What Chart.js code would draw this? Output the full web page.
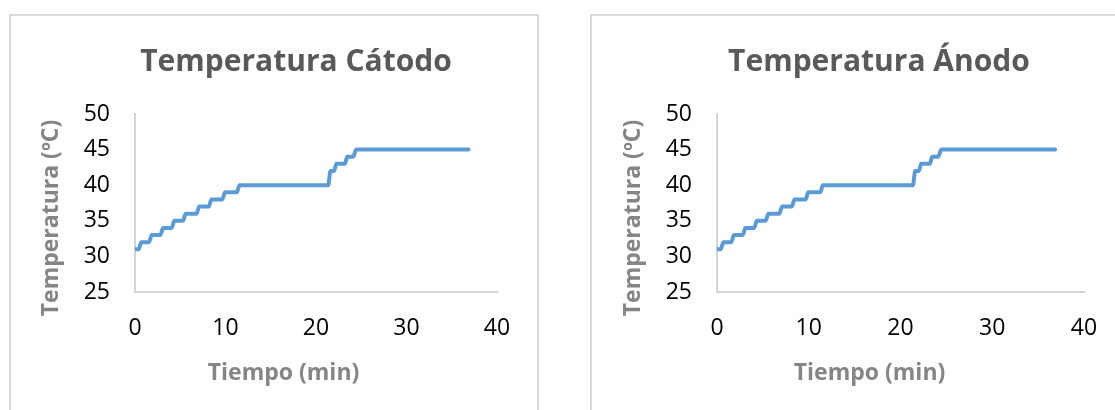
<!DOCTYPE html>
<html lang="es">
<head>
<meta charset="utf-8">
<title>Temperatura Cátodo y Ánodo</title>
<script src="https://cdn.jsdelivr.net/npm/chart.js@4.4.1/dist/chart.umd.min.js"></script>
<style>
  html, body { margin: 0; padding: 0; background: #fff; overflow: hidden; width: 1115px; height: 410px; }
  .marco { position: absolute; top: 14px; height: 420px; border: 2px solid #d9d9d9; box-sizing: border-box; background: #fff; }
  canvas { position: absolute; top: 0; }
</style>
</head>
<body>
<div class="marco" style="left:9px;width:530px"></div>
<div class="marco" style="left:590px;width:600px"></div>
<canvas id="catodo" width="592" height="410" style="left:0"></canvas>
<canvas id="anodo" width="558" height="410" style="left:600px"></canvas>
<script>
// Registro de temperatura frente al tiempo (min, ºC)
const tiempo = [0, 0.4, 0.7, 1.55, 1.85, 2.8, 3.1, 4.05, 4.35, 5.3, 5.6, 6.8, 7.1, 8.15, 8.45, 9.65, 9.95, 11.25, 11.55, 21.35, 21.6, 22.0, 22.25, 23.2, 23.45, 24.1, 24.45, 36.85];
const tempCatodo = [31, 31, 32, 32, 33, 33, 34, 34, 35, 35, 36, 36, 37, 37, 38, 38, 39, 39, 40, 40, 42, 42, 43, 43, 44, 44, 45, 45];
const tempAnodo  = [31, 31, 32, 32, 33, 33, 34, 34, 35, 35, 36, 36, 37, 37, 38, 38, 39, 39, 40, 40, 42, 42, 43, 43, 44, 44, 45, 45];

// Marcas de los ejes
const ticksTiempo = [0, 10, 20, 30, 40];
const ticksTemperatura = [25, 30, 35, 40, 45, 50];

const FUENTE = '"Open Sans", "Noto Sans", sans-serif';

// Rótulos de los ejes, situados respecto al área de trazado
const rotulosEjes = {
  id: 'rotulosEjes',
  afterDraw(chart, args, opts) {
    const { ctx, chartArea } = chart;
    ctx.save();
    ctx.font = `bold ${opts.size}px ${FUENTE}`;
    ctx.fillStyle = opts.color;
    ctx.textAlign = 'center';
    ctx.textBaseline = 'middle';
    ctx.fillText(opts.x.text, chartArea.left + opts.x.dx, chartArea.bottom + opts.x.dy);
    ctx.translate(chartArea.left + opts.y.dx, chartArea.top + opts.y.dy);
    ctx.rotate(-Math.PI / 2);
    ctx.fillText(opts.y.text, 0, 0);
    ctx.restore();
  }
};

function crearGrafico(id, titulo, valores, geo) {
  const puntos = tiempo.map((t, i) => ({ x: t, y: valores[i] }));
  return new Chart(document.getElementById(id), {
    type: 'line',
    data: {
      datasets: [{
        label: titulo,
        data: puntos,
        borderColor: '#5b9bd5',
        borderWidth: 4,
        borderCapStyle: 'round',
        borderJoinStyle: 'round',
        pointRadius: 0,
        cubicInterpolationMode: 'monotone',
        fill: false
      }]
    },
    options: {
      responsive: false,
      animation: false,
      devicePixelRatio: 1,
      layout: { padding: 0 },
      plugins: {
        legend: { display: false },
        tooltip: { enabled: false },
        title: {
          display: true,
          text: titulo,
          color: '#595959',
          font: { family: FUENTE, weight: 'bold', size: 30, lineHeight: 1.2 },
          padding: { top: 44.5, bottom: 33.5 }
        },
        rotulosEjes: {
          size: 23,
          color: '#858585',
          x: { text: 'Tiempo (min)', dx: geo.xCapDx, dy: 81 },
          y: { text: 'Temperatura (ºC)', dx: -84, dy: 104 }
        }
      },
      scales: {
        x: {
          type: 'linear',
          min: ticksTiempo[0],
          max: ticksTiempo[ticksTiempo.length - 1],
          afterBuildTicks: s => { s.ticks = ticksTiempo.map(v => ({ value: v })); },
          ticks: {
            padding: 23, color: '#000', maxRotation: 0, minRotation: 0, autoSkip: false,
            font: { family: FUENTE, size: 23 }
          },
          grid: { display: false, drawTicks: false },
          border: { display: true, color: '#d4d4d4', width: 2 },
          afterFit: s => { s.height = 118; s.paddingLeft = 0; s.paddingRight = geo.padRight; }
        },
        y: {
          type: 'linear',
          min: ticksTemperatura[0],
          max: ticksTemperatura[ticksTemperatura.length - 1],
          afterBuildTicks: s => { s.ticks = ticksTemperatura.map(v => ({ value: v })); },
          ticks: {
            padding: 25, color: '#000',
            font: { family: FUENTE, size: 23 }
          },
          grid: { display: false, drawTicks: false },
          border: { display: true, color: '#d4d4d4', width: 2 },
          afterFit: s => { s.width = geo.yWidth; }
        }
      }
    },
    plugins: [rotulosEjes]
  });
}

crearGrafico('catodo', 'Temperatura Cátodo', tempCatodo, { yWidth: 135, padRight: 95, xCapDx: 148.5 });
crearGrafico('anodo', 'Temperatura Ánodo', tempAnodo, { yWidth: 117, padRight: 74, xCapDx: 152.5 });
</script>
</body>
</html>
